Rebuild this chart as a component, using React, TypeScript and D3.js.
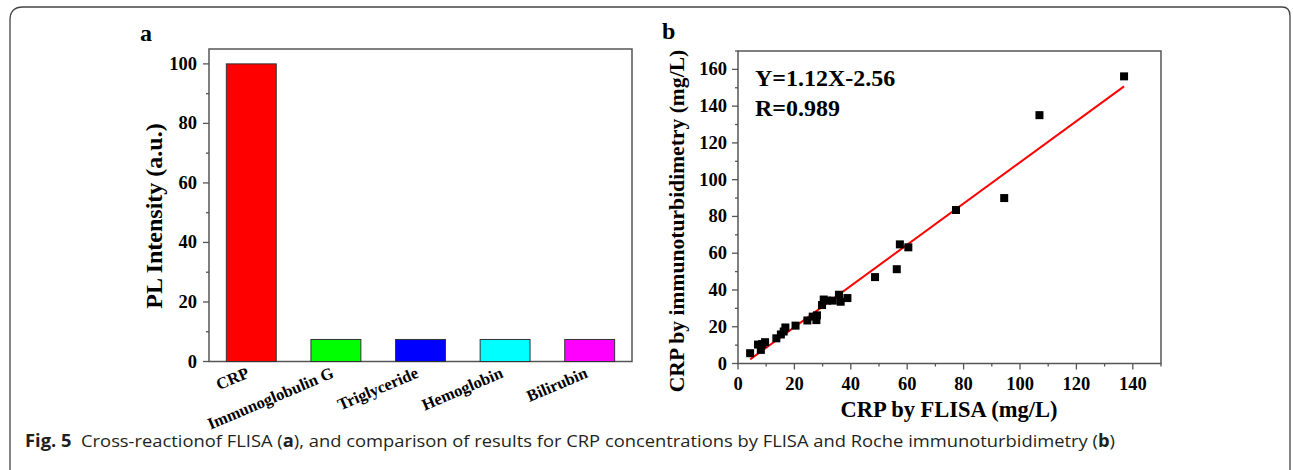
import React from "react";
import * as d3 from "d3";

const categories = ["CRP", "Immunoglobulin G", "Triglyceride", "Hemoglobin", "Bilirubin"];
const intensities = [100, 7.4, 7.4, 7.4, 7.4];
const barColors = ["#ff0000", "#00ff00", "#0000ff", "#00ffff", "#ff00ff"];
const yTicksA = [0, 20, 40, 60, 80, 100];

const flisa = [4.3, 7.1, 8.1, 8.6, 9.6, 13.6, 15.2, 16.2, 16.8, 20.4, 24.6, 26.5, 27.8, 28.0, 29.8, 30.4, 31.6, 33.6, 35.8, 36.4, 38.8, 48.6, 56.3, 57.4, 60.4, 77.3, 94.4, 106.9, 136.9];
const immuno = [5.6, 10.3, 7.4, 10.6, 11.6, 13.7, 15.8, 17.4, 19.6, 20.6, 23.4, 25.5, 23.6, 26.2, 31.8, 34.8, 34.2, 34.2, 37.4, 33.6, 35.6, 47.0, 51.3, 64.8, 63.2, 83.5, 90.0, 135.1, 156.2];
const slope = 1.12;
const intercept = -2.56;
const xTicksB = [0, 20, 40, 60, 80, 100, 120, 140];
const yTicksB = [0, 20, 40, 60, 80, 100, 120, 140, 160];

const serif = "'Liberation Serif', 'Times New Roman', serif";
const axisColor = "#555";

export default function App() {
  // Panel a
  const ax0 = 209, ax1 = 632, ay0 = 361.5, ay1 = 49;
  const xa = d3.scaleBand<string>().domain(categories).range([ax0, ax1]).paddingInner(0.41).paddingOuter(0.205);
  const ya = d3.scaleLinear().domain([0, 105]).range([ay0, ay1]);
  const minorA = d3.range(0, 101, 10);

  // Panel b
  const bx0 = 738, bx1 = 1161, by0 = 363.5, by1 = 51;
  const xb = d3.scaleLinear().domain([0, 150]).range([bx0, bx1]);
  const yb = d3.scaleLinear().domain([0, 170]).range([by0, by1]);
  const minorXB = d3.range(0, 151, 10);
  const minorYB = d3.range(0, 171, 10);
  const pts = flisa.map((x, i) => [x, immuno[i]] as [number, number]);
  const fitX = [d3.min(flisa)!, d3.max(flisa)!];
  const line = d3.line<number>().x((x) => xb(x)).y((x) => yb(slope * x + intercept));

  return (
    <svg width={1293} height={470} style={{ position: "absolute", left: 0, top: 0, background: "#fff" }}>
      <path d="M10,470 L10,20 Q10,7 23,7 L1282,7 Q1290,7 1290,16 L1290,470" fill="none" stroke="#444" strokeWidth={1.3} />

      {/* Panel a */}
      <text x={140} y={41} fontFamily={serif} fontWeight="bold" fontSize={24}>a</text>
      <rect x={ax0} y={ay1} width={ax1 - ax0} height={ay0 - ay1} fill="none" stroke={axisColor} strokeWidth={1.5} />
      {categories.map((c, i) => (
        <rect key={c} x={xa(c)!} y={ya(intensities[i])} width={xa.bandwidth()} height={ya(0) - ya(intensities[i])} fill={barColors[i]} stroke="#333" strokeWidth={1} />
      ))}
      {minorA.map((t) => (
        <line key={t} x1={ax0} x2={ax0 - (t % 20 === 0 ? 6 : 3)} y1={ya(t)} y2={ya(t)} stroke={axisColor} strokeWidth={1.3} />
      ))}
      {yTicksA.map((t) => (
        <text key={t} x={197} y={ya(t) + 6} textAnchor="end" fontFamily={serif} fontWeight="bold" fontSize={18.5}>{t}</text>
      ))}
      <text transform={`translate(162,216) rotate(-90)`} textAnchor="middle" fontFamily={serif} fontWeight="bold" fontSize={24}>PL Intensity (a.u.)</text>
      {categories.map((c) => (
        <text key={c} transform={`translate(${xa(c)! + xa.bandwidth() / 2 - 1},377) rotate(-23)`} textAnchor="end" fontFamily={serif} fontWeight="bold" fontSize={16.5}>{c}</text>
      ))}

      {/* Panel b */}
      <text x={662} y={39} fontFamily={serif} fontWeight="bold" fontSize={24}>b</text>
      <rect x={bx0} y={by1} width={bx1 - bx0} height={by0 - by1} fill="none" stroke={axisColor} strokeWidth={1.5} />
      {minorXB.map((t) => (
        <line key={t} x1={xb(t)} x2={xb(t)} y1={by0} y2={by0 + (t % 20 === 0 ? 6 : 3)} stroke={axisColor} strokeWidth={1.3} />
      ))}
      {minorYB.map((t) => (
        <line key={t} x1={bx0} x2={bx0 - (t % 20 === 0 ? 6 : 3)} y1={yb(t)} y2={yb(t)} stroke={axisColor} strokeWidth={1.3} />
      ))}
      {xTicksB.map((t) => (
        <text key={t} x={xb(t)} y={390} textAnchor="middle" fontFamily={serif} fontWeight="bold" fontSize={18.5}>{t}</text>
      ))}
      {yTicksB.map((t) => (
        <text key={t} x={727} y={yb(t) + 6} textAnchor="end" fontFamily={serif} fontWeight="bold" fontSize={18.5}>{t}</text>
      ))}
      <text x={949} y={417} textAnchor="middle" fontFamily={serif} fontWeight="bold" fontSize={22.5}>CRP by FLISA (mg/L)</text>
      <text transform={`translate(684,221) rotate(-90)`} textAnchor="middle" fontFamily={serif} fontWeight="bold" fontSize={21.6}>CRP by immunoturbidimetry (mg/L)</text>
      <text x={755} y={86} fontFamily={serif} fontWeight="bold" fontSize={24}>Y=1.12X-2.56</text>
      <text x={755} y={116} fontFamily={serif} fontWeight="bold" fontSize={24}>R=0.989</text>
      <path d={line(fitX)!} fill="none" stroke="#ff0000" strokeWidth={2} />
      {pts.map(([x, y], i) => (
        <rect key={i} x={xb(x) - 4} y={yb(y) - 4} width={8} height={8} fill="#000" />
      ))}

      {/* Caption */}
      <text x={25} y={447} fontFamily="'Open Sans', 'Noto Sans', sans-serif" fontSize={17} fill="#231f20" textLength={1090} lengthAdjust="spacingAndGlyphs">
        <tspan fontWeight="bold">Fig. 5</tspan>
        <tspan>{"\u00a0 Cross-reactionof FLISA ("}</tspan>
        <tspan fontWeight="bold">a</tspan>
        <tspan>), and comparison of results for CRP concentrations by FLISA and Roche immunoturbidimetry (</tspan>
        <tspan fontWeight="bold">b</tspan>
        <tspan>)</tspan>
      </text>
    </svg>
  );
}
